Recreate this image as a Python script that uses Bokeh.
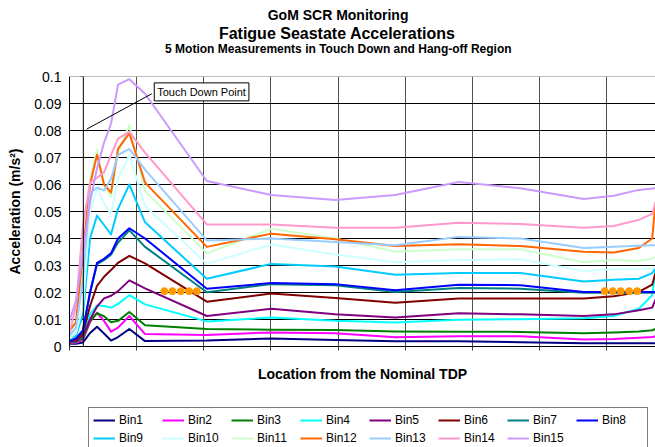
from bokeh.plotting import figure
from bokeh.layouts import column
from bokeh.models import (Range1d, FixedTicker, Legend, LegendItem, Span, Label,
                          Title, Arrow, CustomLabelingPolicy)
from bokeh.embed import file_html
from bokeh.resources import INLINE

FONT = "Liberation Sans"

# ---------------- data ----------------
location = [0, 0.097, 0.201, 0.306, 0.41, 0.514, 0.618, 0.723, 0.891, 1.125,
            2.045, 3.003, 3.957, 4.851, 5.794, 6.714, 7.657, 8.104, 8.477, 8.677, 8.726]

bin_names = ["Bin1", "Bin2", "Bin3", "Bin4", "Bin5", "Bin6", "Bin7", "Bin8",
             "Bin9", "Bin10", "Bin11", "Bin12", "Bin13", "Bin14", "Bin15"]

bin1 = [0.001, 0.001, 0.0015, 0.005, 0.0073, 0.0048, 0.0022, 0.0035, 0.0065, 0.002,
        0.0022, 0.003, 0.0024, 0.0019, 0.0019, 0.0016, 0.0012, 0.0012, 0.0012, 0.0012, 0.0012]
bin2 = [0.0013, 0.0014, 0.0025, 0.009, 0.0125, 0.0095, 0.0055, 0.007, 0.0113, 0.0046,
        0.0043, 0.0052, 0.0049, 0.0034, 0.0038, 0.0038, 0.0026, 0.0028, 0.0032, 0.0035, 0.0037]
bin3 = [0.0015, 0.0017, 0.003, 0.0095, 0.0123, 0.0112, 0.009, 0.0095, 0.0128, 0.0079,
        0.0065, 0.0062, 0.0061, 0.0056, 0.0055, 0.0054, 0.0049, 0.0052, 0.0056, 0.006, 0.0065]
bin4 = [0.0017, 0.002, 0.004, 0.012, 0.0152, 0.015, 0.0144, 0.0158, 0.019, 0.0156,
        0.0093, 0.0107, 0.0095, 0.0089, 0.0099, 0.0101, 0.0105, 0.0113, 0.014, 0.019, 0.0284]
bin5 = [0.0017, 0.002, 0.004, 0.01, 0.0148, 0.0178, 0.0188, 0.0205, 0.0245, 0.0215,
        0.0113, 0.014, 0.0119, 0.0107, 0.0123, 0.0119, 0.0113, 0.0119, 0.0134, 0.0144, 0.0174]
bin6 = [0.002, 0.0025, 0.005, 0.015, 0.0225, 0.0258, 0.0283, 0.031, 0.0336, 0.0308,
        0.0166, 0.0196, 0.018, 0.0162, 0.0178, 0.0178, 0.0178, 0.0186, 0.0202, 0.0229, 0.0272]
bin7 = [0.0022, 0.003, 0.006, 0.02, 0.0305, 0.032, 0.034, 0.0385, 0.043, 0.0369,
        0.0201, 0.0231, 0.0227, 0.0202, 0.0217, 0.0214, 0.0199, 0.0199, 0.0199, 0.0199, 0.0199]
bin8 = [0.002, 0.003, 0.006, 0.02, 0.031, 0.0325, 0.0345, 0.04, 0.0438, 0.04,
        0.0214, 0.0235, 0.0231, 0.0208, 0.0229, 0.0227, 0.0202, 0.0202, 0.0202, 0.0202, 0.0202]
bin9 = [0.0028, 0.004, 0.012, 0.04, 0.0485, 0.045, 0.0415, 0.051, 0.06, 0.046,
        0.0251, 0.0306, 0.0296, 0.0266, 0.0272, 0.0272, 0.0241, 0.0247, 0.0251, 0.0272, 0.029]
bin10 = [0.003, 0.005, 0.015, 0.05, 0.0588, 0.053, 0.049, 0.062, 0.071, 0.052,
         0.0306, 0.0378, 0.0341, 0.0312, 0.032, 0.0323, 0.028, 0.0286, 0.0287, 0.029, 0.0292]
bin11 = [0.004, 0.008, 0.025, 0.062, 0.073, 0.06, 0.0555, 0.072, 0.082, 0.0576,
         0.0345, 0.0436, 0.04, 0.0351, 0.036, 0.036, 0.0312, 0.032, 0.0317, 0.0325, 0.0332]
bin12 = [0.0058, 0.009, 0.035, 0.06, 0.071, 0.06, 0.057, 0.0732, 0.079, 0.0607,
         0.0369, 0.0418, 0.0397, 0.0372, 0.0379, 0.0372, 0.0351, 0.0348, 0.0365, 0.04, 0.0533]
bin13 = [0.004, 0.007, 0.025, 0.057, 0.0588, 0.0578, 0.062, 0.071, 0.0732, 0.0655,
         0.0393, 0.04, 0.0387, 0.0375, 0.0406, 0.04, 0.0365, 0.0369, 0.0373, 0.0375, 0.0375]
bin14 = [0.0052, 0.015, 0.045, 0.0607, 0.0625, 0.0645, 0.071, 0.077, 0.0795, 0.0718,
         0.0452, 0.0452, 0.044, 0.044, 0.0458, 0.0454, 0.044, 0.0446, 0.0469, 0.0491, 0.0533]
bin15 = [0.0095, 0.017, 0.035, 0.0535, 0.066, 0.0755, 0.0825, 0.097, 0.099, 0.0936,
         0.0613, 0.0561, 0.0543, 0.0561, 0.0609, 0.0586, 0.0546, 0.0558, 0.058, 0.0585, 0.0586]

bin_colors = ["#000080", "#FF00FF", "#008000", "#00FFFF", "#800080", "#800000",
              "#008080", "#0000FF", "#00CCFF", "#CCFFFF", "#CCFFCC", "#FF6600",
              "#99CCFF", "#FF99CC", "#CC99FF"]

# motion measurement positions (orange dots)
sensor_x = [1.413, 1.532, 1.657, 1.781, 1.896, 7.970, 8.089, 8.209, 8.334, 8.453]
sensor_y = [0.0205, 0.0205, 0.0205, 0.0205, 0.0205, 0.0205, 0.0205, 0.0205, 0.0205, 0.0205]

y_ticks = [0.0, 0.01, 0.02, 0.03, 0.04, 0.05, 0.06, 0.07, 0.08, 0.09, 0.1]
y_tick_labels = ["0", "0.01", "0.02", "0.03", "0.04", "0.05", "0.06", "0.07",
                 "0.08", "0.09", "0.1"]
x_ticks = [0, 1, 2, 3, 4, 5, 6, 7, 8]
tdp_location = 0.206

series = [bin1, bin2, bin3, bin4, bin5, bin6, bin7, bin8, bin9, bin10,
          bin11, bin12, bin13, bin14, bin15]

# ---------------- main figure ----------------
p = figure(width=655, height=384, x_range=Range1d(0, 8.726), y_range=Range1d(0, 0.1),
           output_backend="svg", toolbar_location=None,
           min_border_left=69, min_border_right=0, min_border_top=0, min_border_bottom=0)
p.outline_line_color = None
p.background_fill_color = "white"

# grids
p.xgrid.ticker = FixedTicker(ticks=x_ticks[1:])
p.xgrid.grid_line_color = "#505050"
p.xgrid.grid_line_width = 1
p.ygrid.ticker = FixedTicker(ticks=y_ticks[1:-1])
p.ygrid.grid_line_color = "black"
p.ygrid.grid_line_width = 1

p.add_layout(Span(location=y_ticks[-1], dimension="width", line_color="#808080", line_width=1))
p.add_layout(Span(location=tdp_location, dimension="height", line_color="black", line_width=1))

# y axis
ya = p.yaxis[0]
ya.ticker = FixedTicker(ticks=y_ticks)
ya.major_label_overrides = {t: l for t, l in zip(y_ticks, y_tick_labels)}
ya.major_label_text_font = FONT
ya.major_label_text_font_size = "14px"
ya.major_label_text_color = "black"
ya.major_tick_out = 0
ya.major_tick_in = 0
ya.minor_tick_out = 0
ya.minor_tick_in = 0
ya.major_label_standoff = 8
ya.axis_line_color = "black"
ya.axis_label = "Acceleration (m/s²)"
ya.axis_label_text_font = FONT
ya.axis_label_text_font_size = "14px"
ya.axis_label_text_font_style = "bold"
ya.axis_label_text_color = "black"
ya.axis_label_standoff = 8

# x axis (tick marks only, no tick labels)
xa = p.xaxis[0]
xa.ticker = FixedTicker(ticks=x_ticks)
xa.major_label_text_font_size = "0px"
xa.major_label_standoff = 0
xa.major_label_policy = CustomLabelingPolicy(code="""
    for (const i of indices) { indices.unset(i) }
    return indices
""")
xa.major_tick_out = 4
xa.major_tick_in = 0
xa.minor_tick_out = 0
xa.minor_tick_in = 0
xa.major_tick_line_color = "#404040"
xa.axis_line_color = "black"
xa.axis_label = "Location from the Nominal TDP"
xa.axis_label_text_font = FONT
xa.axis_label_text_font_size = "14px"
xa.axis_label_text_font_style = "bold"
xa.axis_label_text_color = "black"
xa.axis_label_standoff = 15

# tick marks on the TDP line
p.scatter(x=[tdp_location - 0.025] * len(y_ticks), y=y_ticks, marker="dash", size=4,
          line_color="black", line_width=1)

# series
for name, vals, col in zip(bin_names, series, bin_colors):
    p.line(location, vals, line_color=col, line_width=2, line_join="round")

p.scatter(sensor_x, sensor_y, size=7, fill_color="#FF9900", line_color="#FF9900")

# callout
p.add_layout(Arrow(end=None, x_start=0.256, y_start=0.0805, x_end=1.225, y_end=0.0936,
                   line_color="black", line_width=1))
p.add_layout(Label(x=1.262, y=0.0943, text="Touch Down Point", text_font=FONT,
                   text_font_size="11px", text_baseline="middle", text_align="left",
                   text_color="black", border_line_color="black", border_line_width=1,
                   background_fill_color="white", padding=3))

# titles (closest to frame first)
def add_title(text, size, standoff, offset, style="bold"):
    t = Title(text=text, text_font=FONT, text_font_size=size, text_font_style=style,
              align="left", offset=offset, standoff=standoff, vertical_align="middle",
              text_color="black")
    p.add_layout(t, "above")

add_title(" ", "10px", 8.7, 0)
add_title("5 Motion Measurements in Touch Down and Hang-off Region", "12px", -5.4, 95.6)
add_title("Fatigue Seastate Accelerations", "16px", 1.9, 149.4)
add_title("GoM SCR Monitoring", "14px", -3.3, 198.2)
add_title(" ", "1px", 3.8, 0)

# ---------------- legend strip ----------------
# (the series are re-drawn here outside the visible range; only their legend
#  glyphs show)
lg = figure(width=655, height=63, x_range=Range1d(0, 1), y_range=Range1d(1, 2),
            output_backend="svg", toolbar_location=None,
            x_axis_type=None, y_axis_type=None,
            min_border_left=0, min_border_right=0, min_border_top=0, min_border_bottom=0)
lg.outline_line_color = None
lg.xgrid.visible = False
lg.ygrid.visible = False

items = []
for name, vals, col in zip(bin_names, series, bin_colors):
    r = lg.line(location, vals, line_color=col, line_width=2)
    items.append(LegendItem(label=name, renderers=[r]))

legend = Legend(items=items, location=(19, -4), orientation="horizontal", ncols=8,
                padding=4, spacing=2, margin=0,
                glyph_width=22, glyph_height=16, label_height=16, label_width=41,
                label_standoff=4, label_text_font=FONT, label_text_font_size="12px",
                label_text_color="black", border_line_color="black",
                border_line_width=1, background_fill_color="white")
lg.add_layout(legend)

layout = column(p, lg, spacing=0)
open("out.html", "w").write(file_html(layout, INLINE))
